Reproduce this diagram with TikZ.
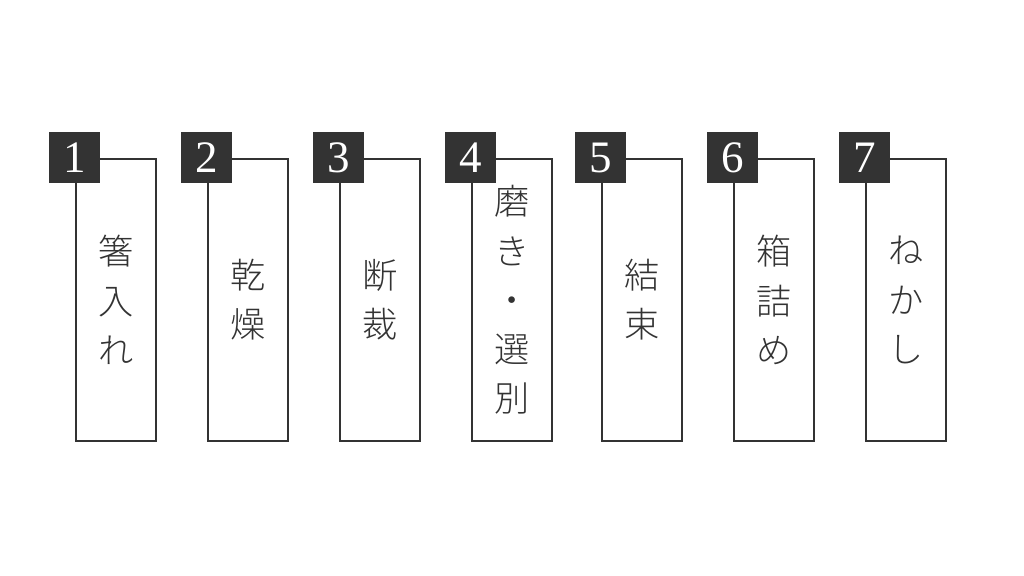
\documentclass[tikz,border=0pt]{standalone}
\usepackage{fontspec}
\setmainfont{Liberation Serif}
\newfontfamily\jpfont{Noto Sans CJK JP}[UprightFont=* Light]
\definecolor{ink}{HTML}{333333}
\tikzset{
  stepbox/.style={draw=ink, line width=1.5pt, minimum width=2cm, minimum height=7.05cm,
    align=center, inner sep=0pt, text=ink, font=\jpfont\fontsize{25}{35}\selectfont},
  numbox/.style={fill=ink, text=white, minimum size=1.275cm, inner sep=0pt,
    font=\fontsize{32}{32}\selectfont}
}
\begin{document}
\begin{tikzpicture}[x=0.025cm, y=-0.025cm]
  \useasboundingbox (0,0) rectangle (1024,576);
\foreach \n/\x/\txt in {1/116/{箸\\入\\れ}, 2/248/{乾\\燥}, 3/380/{断\\裁},
    4/512/{磨\\き\\・\\選\\別}, 5/642/{結\\束}, 6/774/{箱\\詰\\め}, 7/906/{ね\\か\\し}} {
    \node[stepbox] (step\n) at (\x,300) {\txt};
    \node[numbox] (num\n) at (step\n.north west) {\n};
  }
\end{tikzpicture}
\end{document}
